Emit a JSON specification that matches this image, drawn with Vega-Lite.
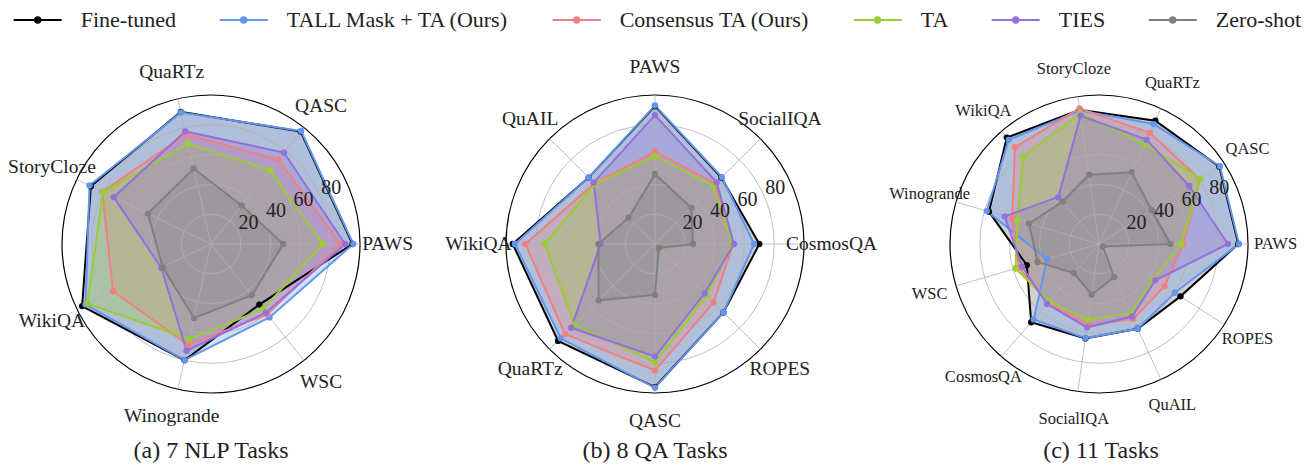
{
  "$schema": "https://vega.github.io/schema/vega-lite/v6.json",
  "padding": 0,
  "background": "white",
  "spacing": 22,
  "bounds": "flush",
  "config": {"view": {"stroke": null}, "font": "Liberation Serif"},
  "datasets": {
    "axes_a": [{"task":"PAWS","k":0},{"task":"QASC","k":1},{"task":"QuaRTz","k":2},{"task":"StoryCloze","k":3},{"task":"WikiQA","k":4},{"task":"Winogrande","k":5},{"task":"WSC","k":6}],
    "axes_b": [{"task":"CosmosQA","k":0},{"task":"SocialIQA","k":1},{"task":"PAWS","k":2},{"task":"QuAIL","k":3},{"task":"WikiQA","k":4},{"task":"QuaRTz","k":5},{"task":"QASC","k":6},{"task":"ROPES","k":7}],
    "axes_c": [{"task":"PAWS","k":0},{"task":"QASC","k":1},{"task":"QuaRTz","k":2},{"task":"StoryCloze","k":3},{"task":"WikiQA","k":4},{"task":"Winogrande","k":5},{"task":"WSC","k":6},{"task":"CosmosQA","k":7},{"task":"SocialIQA","k":8},{"task":"QuAIL","k":9},{"task":"ROPES","k":10}],
    "rings": [{"ring":0.2},{"ring":0.4},{"ring":0.6},{"ring":0.8},{"ring":1.0}],
    "ticks": [{"v":20},{"v":40},{"v":60},{"v":80}],
    "scores_a": [
      {"method":"Fine-tuned","task":"PAWS","value":95},{"method":"Fine-tuned","task":"QASC","value":96.5},{"method":"Fine-tuned","task":"QuaRTz","value":91},{"method":"Fine-tuned","task":"StoryCloze","value":89.5},{"method":"Fine-tuned","task":"WikiQA","value":96},{"method":"Fine-tuned","task":"Winogrande","value":80},{"method":"Fine-tuned","task":"WSC","value":52},
      {"method":"TALL Mask + TA (Ours)","task":"PAWS","value":95.5},{"method":"TALL Mask + TA (Ours)","task":"QASC","value":97},{"method":"TALL Mask + TA (Ours)","task":"QuaRTz","value":90.5},{"method":"TALL Mask + TA (Ours)","task":"StoryCloze","value":90.5},{"method":"TALL Mask + TA (Ours)","task":"WikiQA","value":93.5},{"method":"TALL Mask + TA (Ours)","task":"Winogrande","value":80},{"method":"TALL Mask + TA (Ours)","task":"WSC","value":63},
      {"method":"Consensus TA (Ours)","task":"PAWS","value":87},{"method":"Consensus TA (Ours)","task":"QASC","value":72.5},{"method":"Consensus TA (Ours)","task":"QuaRTz","value":75.5},{"method":"Consensus TA (Ours)","task":"StoryCloze","value":81},{"method":"Consensus TA (Ours)","task":"WikiQA","value":73},{"method":"Consensus TA (Ours)","task":"Winogrande","value":69.5},{"method":"Consensus TA (Ours)","task":"WSC","value":60.5},
      {"method":"TA","task":"PAWS","value":75},{"method":"TA","task":"QASC","value":63.5},{"method":"TA","task":"QuaRTz","value":69},{"method":"TA","task":"StoryCloze","value":80.5},{"method":"TA","task":"WikiQA","value":92},{"method":"TA","task":"Winogrande","value":65.5},{"method":"TA","task":"WSC","value":56},
      {"method":"TIES","task":"PAWS","value":90},{"method":"TIES","task":"QASC","value":78.5},{"method":"TIES","task":"QuaRTz","value":77.5},{"method":"TIES","task":"StoryCloze","value":72.5},{"method":"TIES","task":"WikiQA","value":37},{"method":"TIES","task":"Winogrande","value":73.5},{"method":"TIES","task":"WSC","value":59},
      {"method":"Zero-shot","task":"PAWS","value":48.5},{"method":"Zero-shot","task":"QASC","value":33},{"method":"Zero-shot","task":"QuaRTz","value":52},{"method":"Zero-shot","task":"StoryCloze","value":47},{"method":"Zero-shot","task":"WikiQA","value":36},{"method":"Zero-shot","task":"Winogrande","value":51},{"method":"Zero-shot","task":"WSC","value":44}
    ],
    "scores_b": [
      {"method":"Fine-tuned","task":"CosmosQA","value":70},{"method":"Fine-tuned","task":"SocialIQA","value":63},{"method":"Fine-tuned","task":"PAWS","value":92.5},{"method":"Fine-tuned","task":"QuAIL","value":63},{"method":"Fine-tuned","task":"WikiQA","value":95.5},{"method":"Fine-tuned","task":"QuaRTz","value":92},{"method":"Fine-tuned","task":"QASC","value":96},{"method":"Fine-tuned","task":"ROPES","value":65},
      {"method":"TALL Mask + TA (Ours)","task":"CosmosQA","value":66.5},{"method":"TALL Mask + TA (Ours)","task":"SocialIQA","value":63.5},{"method":"TALL Mask + TA (Ours)","task":"PAWS","value":93},{"method":"TALL Mask + TA (Ours)","task":"QuAIL","value":63},{"method":"TALL Mask + TA (Ours)","task":"WikiQA","value":94},{"method":"TALL Mask + TA (Ours)","task":"QuaRTz","value":89.5},{"method":"TALL Mask + TA (Ours)","task":"QASC","value":96.5},{"method":"TALL Mask + TA (Ours)","task":"ROPES","value":65},
      {"method":"Consensus TA (Ours)","task":"CosmosQA","value":52.5},{"method":"Consensus TA (Ours)","task":"SocialIQA","value":57.5},{"method":"Consensus TA (Ours)","task":"PAWS","value":62},{"method":"Consensus TA (Ours)","task":"QuAIL","value":57.5},{"method":"Consensus TA (Ours)","task":"WikiQA","value":87},{"method":"Consensus TA (Ours)","task":"QuaRTz","value":85.5},{"method":"Consensus TA (Ours)","task":"QASC","value":85},{"method":"Consensus TA (Ours)","task":"ROPES","value":55.5},
      {"method":"TA","task":"CosmosQA","value":52},{"method":"TA","task":"SocialIQA","value":55},{"method":"TA","task":"PAWS","value":59},{"method":"TA","task":"QuAIL","value":56.8},{"method":"TA","task":"WikiQA","value":74},{"method":"TA","task":"QuaRTz","value":76.5},{"method":"TA","task":"QASC","value":79.5},{"method":"TA","task":"ROPES","value":49},
      {"method":"TIES","task":"CosmosQA","value":53},{"method":"TIES","task":"SocialIQA","value":58.5},{"method":"TIES","task":"PAWS","value":86.5},{"method":"TIES","task":"QuAIL","value":58.2},{"method":"TIES","task":"WikiQA","value":36.5},{"method":"TIES","task":"QuaRTz","value":79.5},{"method":"TIES","task":"QASC","value":75.5},{"method":"TIES","task":"ROPES","value":47},
      {"method":"Zero-shot","task":"CosmosQA","value":25.5},{"method":"Zero-shot","task":"SocialIQA","value":34.5},{"method":"Zero-shot","task":"PAWS","value":47},{"method":"Zero-shot","task":"QuAIL","value":25},{"method":"Zero-shot","task":"WikiQA","value":38},{"method":"Zero-shot","task":"QuaRTz","value":53.5},{"method":"Zero-shot","task":"QASC","value":34.2},{"method":"Zero-shot","task":"ROPES","value":3.7}
    ],
    "scores_c": [
      {"method":"Fine-tuned","task":"PAWS","value":93.5},{"method":"Fine-tuned","task":"QASC","value":96},{"method":"Fine-tuned","task":"QuaRTz","value":91},{"method":"Fine-tuned","task":"StoryCloze","value":91},{"method":"Fine-tuned","task":"WikiQA","value":94.5},{"method":"Fine-tuned","task":"Winogrande","value":77},{"method":"Fine-tuned","task":"WSC","value":50.5},{"method":"Fine-tuned","task":"CosmosQA","value":69.5},{"method":"Fine-tuned","task":"SocialIQA","value":64},{"method":"Fine-tuned","task":"QuAIL","value":62.5},{"method":"Fine-tuned","task":"ROPES","value":65},
      {"method":"TALL Mask + TA (Ours)","task":"PAWS","value":94},{"method":"TALL Mask + TA (Ours)","task":"QASC","value":96.5},{"method":"TALL Mask + TA (Ours)","task":"QuaRTz","value":88.5},{"method":"TALL Mask + TA (Ours)","task":"StoryCloze","value":90.5},{"method":"TALL Mask + TA (Ours)","task":"WikiQA","value":92.5},{"method":"TALL Mask + TA (Ours)","task":"Winogrande","value":78.5},{"method":"TALL Mask + TA (Ours)","task":"WSC","value":36.3},{"method":"TALL Mask + TA (Ours)","task":"CosmosQA","value":67},{"method":"TALL Mask + TA (Ours)","task":"SocialIQA","value":63.8},{"method":"TALL Mask + TA (Ours)","task":"QuAIL","value":62.5},{"method":"TALL Mask + TA (Ours)","task":"ROPES","value":60.5},
      {"method":"Consensus TA (Ours)","task":"PAWS","value":56.5},{"method":"Consensus TA (Ours)","task":"QASC","value":80.5},{"method":"Consensus TA (Ours)","task":"QuaRTz","value":82},{"method":"Consensus TA (Ours)","task":"StoryCloze","value":92},{"method":"Consensus TA (Ours)","task":"WikiQA","value":86},{"method":"Consensus TA (Ours)","task":"Winogrande","value":60.8},{"method":"Consensus TA (Ours)","task":"WSC","value":56},{"method":"Consensus TA (Ours)","task":"CosmosQA","value":52.5},{"method":"Consensus TA (Ours)","task":"SocialIQA","value":55},{"method":"Consensus TA (Ours)","task":"QuAIL","value":55.3},{"method":"Consensus TA (Ours)","task":"ROPES","value":52.3},
      {"method":"TA","task":"PAWS","value":55},{"method":"TA","task":"QASC","value":81},{"method":"TA","task":"QuaRTz","value":73.5},{"method":"TA","task":"StoryCloze","value":88.5},{"method":"TA","task":"WikiQA","value":77.7},{"method":"TA","task":"Winogrande","value":57},{"method":"TA","task":"WSC","value":58.4},{"method":"TA","task":"CosmosQA","value":51},{"method":"TA","task":"SocialIQA","value":51.3},{"method":"TA","task":"QuAIL","value":51.2},{"method":"TA","task":"ROPES","value":43.5},
      {"method":"TIES","task":"PAWS","value":86.5},{"method":"TIES","task":"QASC","value":72},{"method":"TIES","task":"QuaRTz","value":77},{"method":"TIES","task":"StoryCloze","value":87},{"method":"TIES","task":"WikiQA","value":41.7},{"method":"TIES","task":"Winogrande","value":66},{"method":"TIES","task":"WSC","value":53.8},{"method":"TIES","task":"CosmosQA","value":53.3},{"method":"TIES","task":"SocialIQA","value":56.5},{"method":"TIES","task":"QuAIL","value":53.5},{"method":"TIES","task":"ROPES","value":45},
      {"method":"Zero-shot","task":"PAWS","value":48},{"method":"Zero-shot","task":"QASC","value":42},{"method":"Zero-shot","task":"QuaRTz","value":53},{"method":"Zero-shot","task":"StoryCloze","value":47},{"method":"Zero-shot","task":"WikiQA","value":37.5},{"method":"Zero-shot","task":"Winogrande","value":49},{"method":"Zero-shot","task":"WSC","value":43},{"method":"Zero-shot","task":"CosmosQA","value":25.8},{"method":"Zero-shot","task":"SocialIQA","value":34.4},{"method":"Zero-shot","task":"QuAIL","value":24.5},{"method":"Zero-shot","task":"ROPES","value":3}
    ]
  },
  "hconcat": [
    {
      "width": 422, "height": 430,
      "title": {"text": "(a) 7 NLP Tasks", "orient": "bottom", "frame": "group", "anchor": "middle", "font": "Liberation Serif", "fontSize": 24, "fontWeight": "normal", "color": "#222222", "offset": 9},
      "layer": [
        {
          "data": {"name": "scores_a"},
          "transform": [
            {"lookup": "task", "from": {"data": {"name": "axes_a"}, "key": "task", "fields": ["k"]}},
            {"calculate": "2*PI*datum.k/7", "as": "ang"},
            {"calculate": "datum.value/100*cos(datum.ang)", "as": "px"},
            {"calculate": "datum.value/100*sin(datum.ang)", "as": "py"}
          ],
          "mark": {"type": "line", "interpolate": "linear-closed", "strokeOpacity": 0, "strokeWidth": 0, "fillOpacity": 0.3},
          "encoding": {
            "x": {"field": "px", "type": "quantitative", "scale": {"domain": [-1.41611, 1.41611], "nice": false, "zero": false}, "axis": null},
            "y": {"field": "py", "type": "quantitative", "scale": {"domain": [-1.24832, 1.63758], "nice": false, "zero": false}, "axis": null},
            "order": {"field": "k", "type": "quantitative"},
            "detail": {"field": "method", "type": "nominal"},
            "fill": {"field": "method", "type": "nominal", "scale": {"domain": ["Fine-tuned","TALL Mask + TA (Ours)","Consensus TA (Ours)","TA","TIES","Zero-shot"], "range": ["rgba(0,0,0,0.6)","#6495ED","#F08080","#9ACD32","#9370DB","#808080"]}, "legend": null}
          }
        },
        {
          "data": {"name": "rings"},
          "transform": [{"calculate": "0", "as": "cx"}, {"calculate": "0", "as": "cy"}],
          "mark": {"type": "point", "shape": "circle", "filled": false, "opacity": 1},
          "encoding": {
            "x": {"field": "cx", "type": "quantitative", "scale": {"domain": [-1.41611, 1.41611], "nice": false, "zero": false}, "axis": null},
            "y": {"field": "cy", "type": "quantitative", "scale": {"domain": [-1.24832, 1.63758], "nice": false, "zero": false}, "axis": null},
            "size": {"field": "ring", "type": "quantitative", "scale": {"type": "pow", "exponent": 2, "domain": [0, 1], "range": [0, 88804], "zero": true}, "legend": null},
            "stroke": {"condition": {"test": "datum.ring >= 1", "value": "#000000"}, "value": "#b0b0b0"},
            "strokeWidth": {"condition": {"test": "datum.ring >= 1", "value": 1.2}, "value": 0.8}
          }
        },
        {
          "data": {"name": "axes_a"},
          "transform": [
            {"calculate": "2*PI*datum.k/7", "as": "ang"},
            {"calculate": "cos(datum.ang)", "as": "sx"},
            {"calculate": "sin(datum.ang)", "as": "sy"},
            {"calculate": "0", "as": "cx"},
            {"calculate": "0", "as": "cy"}
          ],
          "mark": {"type": "rule", "stroke": "#b0b0b0", "strokeWidth": 0.8},
          "encoding": {
            "x": {"field": "sx", "type": "quantitative", "scale": {"domain": [-1.41611, 1.41611], "nice": false, "zero": false}, "axis": null},
            "y": {"field": "sy", "type": "quantitative", "scale": {"domain": [-1.24832, 1.63758], "nice": false, "zero": false}, "axis": null},
            "x2": {"field": "cx"},
            "y2": {"field": "cy"}
          }
        },
        {
          "data": {"name": "scores_a"},
          "transform": [
            {"lookup": "task", "from": {"data": {"name": "axes_a"}, "key": "task", "fields": ["k"]}},
            {"calculate": "2*PI*datum.k/7", "as": "ang"},
            {"calculate": "datum.value/100*cos(datum.ang)", "as": "px"},
            {"calculate": "datum.value/100*sin(datum.ang)", "as": "py"}
          ],
          "mark": {"type": "line", "interpolate": "linear-closed", "strokeWidth": 2},
          "encoding": {
            "x": {"field": "px", "type": "quantitative", "scale": {"domain": [-1.41611, 1.41611], "nice": false, "zero": false}, "axis": null},
            "y": {"field": "py", "type": "quantitative", "scale": {"domain": [-1.24832, 1.63758], "nice": false, "zero": false}, "axis": null},
            "order": {"field": "k", "type": "quantitative"},
            "stroke": {"field": "method", "type": "nominal", "scale": {"domain": ["Fine-tuned","TALL Mask + TA (Ours)","Consensus TA (Ours)","TA","TIES","Zero-shot"], "range": ["#000000","#6495ED","#F08080","#9ACD32","#9370DB","#808080"]},
              "legend": {"orient": "none", "legendX": 26.7, "legendY": 9, "direction": "horizontal", "columns": 6, "title": null, "padding": 0, "symbolType": "M-2.4,0L2.4,0M-0.27,0A0.27,0.27,0,1,0,0.27,0A0.27,0.27,0,1,0,-0.27,0Z", "symbolSize": 400, "symbolStrokeWidth": 2, "symbolOpacity": 1, "labelFont": "Liberation Serif", "labelFontSize": 22, "labelColor": "#222222", "labelOffset": 32, "labelLimit": 400, "columnPadding": 39,
                "encode": {"symbols": {"update": {"fill": {"scale": "stroke", "field": "value"}}}}}}
          }
        },
        {
          "data": {"name": "scores_a"},
          "transform": [
            {"lookup": "task", "from": {"data": {"name": "axes_a"}, "key": "task", "fields": ["k"]}},
            {"calculate": "2*PI*datum.k/7", "as": "ang"},
            {"calculate": "datum.value/100*cos(datum.ang)", "as": "px"},
            {"calculate": "datum.value/100*sin(datum.ang)", "as": "py"}
          ],
          "mark": {"type": "point", "filled": true, "size": 40, "opacity": 1},
          "encoding": {
            "x": {"field": "px", "type": "quantitative", "scale": {"domain": [-1.41611, 1.41611], "nice": false, "zero": false}, "axis": null},
            "y": {"field": "py", "type": "quantitative", "scale": {"domain": [-1.24832, 1.63758], "nice": false, "zero": false}, "axis": null},
            "color": {"field": "method", "type": "nominal", "scale": {"domain": ["Fine-tuned","TALL Mask + TA (Ours)","Consensus TA (Ours)","TA","TIES","Zero-shot"], "range": ["#000000","#6495ED","#F08080","#9ACD32","#9370DB","#808080"]}, "legend": null}
          }
        },
        {
          "data": {"name": "axes_a"},
          "transform": [
            {"calculate": "2*PI*datum.k/7", "as": "ang"},
            {"calculate": "1.185*cos(datum.ang)", "as": "lx"},
            {"calculate": "1.185*sin(datum.ang)", "as": "ly"}
          ],
          "mark": {"type": "text", "font": "Liberation Serif", "fontSize": 19.5, "color": "#222222", "align": "center", "baseline": "middle"},
          "encoding": {
            "x": {"field": "lx", "type": "quantitative", "scale": {"domain": [-1.41611, 1.41611], "nice": false, "zero": false}, "axis": null},
            "y": {"field": "ly", "type": "quantitative", "scale": {"domain": [-1.24832, 1.63758], "nice": false, "zero": false}, "axis": null},
            "text": {"field": "task", "type": "nominal"}
          }
        },
        {
          "data": {"name": "ticks"},
          "transform": [
            {"calculate": "datum.v/100*cos(PI/8)", "as": "tx"},
            {"calculate": "datum.v/100*sin(PI/8)", "as": "ty"}
          ],
          "mark": {"type": "text", "font": "Liberation Serif", "fontSize": 20, "color": "#222222", "align": "left", "baseline": "bottom"},
          "encoding": {
            "x": {"field": "tx", "type": "quantitative", "scale": {"domain": [-1.41611, 1.41611], "nice": false, "zero": false}, "axis": null},
            "y": {"field": "ty", "type": "quantitative", "scale": {"domain": [-1.24832, 1.63758], "nice": false, "zero": false}, "axis": null},
            "text": {"field": "v", "type": "quantitative"}
          }
        }
      ]
    },
    {
      "width": 422, "height": 430,
      "title": {"text": "(b) 8 QA Tasks", "orient": "bottom", "frame": "group", "anchor": "middle", "font": "Liberation Serif", "fontSize": 24, "fontWeight": "normal", "color": "#222222", "offset": 9},
      "layer": [
        {
          "data": {"name": "scores_b"},
          "transform": [
            {"lookup": "task", "from": {"data": {"name": "axes_b"}, "key": "task", "fields": ["k"]}},
            {"calculate": "2*PI*datum.k/8", "as": "ang"},
            {"calculate": "datum.value/100*cos(datum.ang)", "as": "px"},
            {"calculate": "datum.value/100*sin(datum.ang)", "as": "py"}
          ],
          "mark": {"type": "line", "interpolate": "linear-closed", "strokeOpacity": 0, "strokeWidth": 0, "fillOpacity": 0.3},
          "encoding": {
            "x": {"field": "px", "type": "quantitative", "scale": {"domain": [-1.41611, 1.41611], "nice": false, "zero": false}, "axis": null},
            "y": {"field": "py", "type": "quantitative", "scale": {"domain": [-1.24832, 1.63758], "nice": false, "zero": false}, "axis": null},
            "order": {"field": "k", "type": "quantitative"},
            "detail": {"field": "method", "type": "nominal"},
            "fill": {"field": "method", "type": "nominal", "scale": {"domain": ["Fine-tuned","TALL Mask + TA (Ours)","Consensus TA (Ours)","TA","TIES","Zero-shot"], "range": ["rgba(0,0,0,0.6)","#6495ED","#F08080","#9ACD32","#9370DB","#808080"]}, "legend": null}
          }
        },
        {
          "data": {"name": "rings"},
          "transform": [{"calculate": "0", "as": "cx"}, {"calculate": "0", "as": "cy"}],
          "mark": {"type": "point", "shape": "circle", "filled": false, "opacity": 1},
          "encoding": {
            "x": {"field": "cx", "type": "quantitative", "scale": {"domain": [-1.41611, 1.41611], "nice": false, "zero": false}, "axis": null},
            "y": {"field": "cy", "type": "quantitative", "scale": {"domain": [-1.24832, 1.63758], "nice": false, "zero": false}, "axis": null},
            "size": {"field": "ring", "type": "quantitative", "scale": {"type": "pow", "exponent": 2, "domain": [0, 1], "range": [0, 88804], "zero": true}, "legend": null},
            "stroke": {"condition": {"test": "datum.ring >= 1", "value": "#000000"}, "value": "#b0b0b0"},
            "strokeWidth": {"condition": {"test": "datum.ring >= 1", "value": 1.2}, "value": 0.8}
          }
        },
        {
          "data": {"name": "axes_b"},
          "transform": [
            {"calculate": "2*PI*datum.k/8", "as": "ang"},
            {"calculate": "cos(datum.ang)", "as": "sx"},
            {"calculate": "sin(datum.ang)", "as": "sy"},
            {"calculate": "0", "as": "cx"},
            {"calculate": "0", "as": "cy"}
          ],
          "mark": {"type": "rule", "stroke": "#b0b0b0", "strokeWidth": 0.8},
          "encoding": {
            "x": {"field": "sx", "type": "quantitative", "scale": {"domain": [-1.41611, 1.41611], "nice": false, "zero": false}, "axis": null},
            "y": {"field": "sy", "type": "quantitative", "scale": {"domain": [-1.24832, 1.63758], "nice": false, "zero": false}, "axis": null},
            "x2": {"field": "cx"},
            "y2": {"field": "cy"}
          }
        },
        {
          "data": {"name": "scores_b"},
          "transform": [
            {"lookup": "task", "from": {"data": {"name": "axes_b"}, "key": "task", "fields": ["k"]}},
            {"calculate": "2*PI*datum.k/8", "as": "ang"},
            {"calculate": "datum.value/100*cos(datum.ang)", "as": "px"},
            {"calculate": "datum.value/100*sin(datum.ang)", "as": "py"}
          ],
          "mark": {"type": "line", "interpolate": "linear-closed", "strokeWidth": 2},
          "encoding": {
            "x": {"field": "px", "type": "quantitative", "scale": {"domain": [-1.41611, 1.41611], "nice": false, "zero": false}, "axis": null},
            "y": {"field": "py", "type": "quantitative", "scale": {"domain": [-1.24832, 1.63758], "nice": false, "zero": false}, "axis": null},
            "order": {"field": "k", "type": "quantitative"},
            "stroke": {"field": "method", "type": "nominal", "scale": {"domain": ["Fine-tuned","TALL Mask + TA (Ours)","Consensus TA (Ours)","TA","TIES","Zero-shot"], "range": ["#000000","#6495ED","#F08080","#9ACD32","#9370DB","#808080"]}, "legend": null}
          }
        },
        {
          "data": {"name": "scores_b"},
          "transform": [
            {"lookup": "task", "from": {"data": {"name": "axes_b"}, "key": "task", "fields": ["k"]}},
            {"calculate": "2*PI*datum.k/8", "as": "ang"},
            {"calculate": "datum.value/100*cos(datum.ang)", "as": "px"},
            {"calculate": "datum.value/100*sin(datum.ang)", "as": "py"}
          ],
          "mark": {"type": "point", "filled": true, "size": 40, "opacity": 1},
          "encoding": {
            "x": {"field": "px", "type": "quantitative", "scale": {"domain": [-1.41611, 1.41611], "nice": false, "zero": false}, "axis": null},
            "y": {"field": "py", "type": "quantitative", "scale": {"domain": [-1.24832, 1.63758], "nice": false, "zero": false}, "axis": null},
            "color": {"field": "method", "type": "nominal", "scale": {"domain": ["Fine-tuned","TALL Mask + TA (Ours)","Consensus TA (Ours)","TA","TIES","Zero-shot"], "range": ["#000000","#6495ED","#F08080","#9ACD32","#9370DB","#808080"]}, "legend": null}
          }
        },
        {
          "data": {"name": "axes_b"},
          "transform": [
            {"calculate": "2*PI*datum.k/8", "as": "ang"},
            {"calculate": "1.185*cos(datum.ang)", "as": "lx"},
            {"calculate": "1.185*sin(datum.ang)", "as": "ly"}
          ],
          "mark": {"type": "text", "font": "Liberation Serif", "fontSize": 19.5, "color": "#222222", "align": "center", "baseline": "middle"},
          "encoding": {
            "x": {"field": "lx", "type": "quantitative", "scale": {"domain": [-1.41611, 1.41611], "nice": false, "zero": false}, "axis": null},
            "y": {"field": "ly", "type": "quantitative", "scale": {"domain": [-1.24832, 1.63758], "nice": false, "zero": false}, "axis": null},
            "text": {"field": "task", "type": "nominal"}
          }
        },
        {
          "data": {"name": "ticks"},
          "transform": [
            {"calculate": "datum.v/100*cos(PI/8)", "as": "tx"},
            {"calculate": "datum.v/100*sin(PI/8)", "as": "ty"}
          ],
          "mark": {"type": "text", "font": "Liberation Serif", "fontSize": 20, "color": "#222222", "align": "left", "baseline": "bottom"},
          "encoding": {
            "x": {"field": "tx", "type": "quantitative", "scale": {"domain": [-1.41611, 1.41611], "nice": false, "zero": false}, "axis": null},
            "y": {"field": "ty", "type": "quantitative", "scale": {"domain": [-1.24832, 1.63758], "nice": false, "zero": false}, "axis": null},
            "text": {"field": "v", "type": "quantitative"}
          }
        }
      ]
    },
    {
      "width": 418, "height": 430,
      "title": {"text": "(c) 11 Tasks", "orient": "bottom", "frame": "group", "anchor": "middle", "font": "Liberation Serif", "fontSize": 24, "fontWeight": "normal", "color": "#222222", "offset": 9, "dx": 4},
      "layer": [
        {
          "data": {"name": "scores_c"},
          "transform": [
            {"lookup": "task", "from": {"data": {"name": "axes_c"}, "key": "task", "fields": ["k"]}},
            {"calculate": "2*PI*datum.k/11", "as": "ang"},
            {"calculate": "datum.value/100*cos(datum.ang)", "as": "px"},
            {"calculate": "datum.value/100*sin(datum.ang)", "as": "py"}
          ],
          "mark": {"type": "line", "interpolate": "linear-closed", "strokeOpacity": 0, "strokeWidth": 0, "fillOpacity": 0.3},
          "encoding": {
            "x": {"field": "px", "type": "quantitative", "scale": {"domain": [-1.41611, 1.38926], "nice": false, "zero": false}, "axis": null},
            "y": {"field": "py", "type": "quantitative", "scale": {"domain": [-1.24832, 1.63758], "nice": false, "zero": false}, "axis": null},
            "order": {"field": "k", "type": "quantitative"},
            "detail": {"field": "method", "type": "nominal"},
            "fill": {"field": "method", "type": "nominal", "scale": {"domain": ["Fine-tuned","TALL Mask + TA (Ours)","Consensus TA (Ours)","TA","TIES","Zero-shot"], "range": ["rgba(0,0,0,0.6)","#6495ED","#F08080","#9ACD32","#9370DB","#808080"]}, "legend": null}
          }
        },
        {
          "data": {"name": "rings"},
          "transform": [{"calculate": "0", "as": "cx"}, {"calculate": "0", "as": "cy"}],
          "mark": {"type": "point", "shape": "circle", "filled": false, "opacity": 1},
          "encoding": {
            "x": {"field": "cx", "type": "quantitative", "scale": {"domain": [-1.41611, 1.38926], "nice": false, "zero": false}, "axis": null},
            "y": {"field": "cy", "type": "quantitative", "scale": {"domain": [-1.24832, 1.63758], "nice": false, "zero": false}, "axis": null},
            "size": {"field": "ring", "type": "quantitative", "scale": {"type": "pow", "exponent": 2, "domain": [0, 1], "range": [0, 88804], "zero": true}, "legend": null},
            "stroke": {"condition": {"test": "datum.ring >= 1", "value": "#000000"}, "value": "#b0b0b0"},
            "strokeWidth": {"condition": {"test": "datum.ring >= 1", "value": 1.2}, "value": 0.8}
          }
        },
        {
          "data": {"name": "axes_c"},
          "transform": [
            {"calculate": "2*PI*datum.k/11", "as": "ang"},
            {"calculate": "cos(datum.ang)", "as": "sx"},
            {"calculate": "sin(datum.ang)", "as": "sy"},
            {"calculate": "0", "as": "cx"},
            {"calculate": "0", "as": "cy"}
          ],
          "mark": {"type": "rule", "stroke": "#b0b0b0", "strokeWidth": 0.8},
          "encoding": {
            "x": {"field": "sx", "type": "quantitative", "scale": {"domain": [-1.41611, 1.38926], "nice": false, "zero": false}, "axis": null},
            "y": {"field": "sy", "type": "quantitative", "scale": {"domain": [-1.24832, 1.63758], "nice": false, "zero": false}, "axis": null},
            "x2": {"field": "cx"},
            "y2": {"field": "cy"}
          }
        },
        {
          "data": {"name": "scores_c"},
          "transform": [
            {"lookup": "task", "from": {"data": {"name": "axes_c"}, "key": "task", "fields": ["k"]}},
            {"calculate": "2*PI*datum.k/11", "as": "ang"},
            {"calculate": "datum.value/100*cos(datum.ang)", "as": "px"},
            {"calculate": "datum.value/100*sin(datum.ang)", "as": "py"}
          ],
          "mark": {"type": "line", "interpolate": "linear-closed", "strokeWidth": 2},
          "encoding": {
            "x": {"field": "px", "type": "quantitative", "scale": {"domain": [-1.41611, 1.38926], "nice": false, "zero": false}, "axis": null},
            "y": {"field": "py", "type": "quantitative", "scale": {"domain": [-1.24832, 1.63758], "nice": false, "zero": false}, "axis": null},
            "order": {"field": "k", "type": "quantitative"},
            "stroke": {"field": "method", "type": "nominal", "scale": {"domain": ["Fine-tuned","TALL Mask + TA (Ours)","Consensus TA (Ours)","TA","TIES","Zero-shot"], "range": ["#000000","#6495ED","#F08080","#9ACD32","#9370DB","#808080"]}, "legend": null}
          }
        },
        {
          "data": {"name": "scores_c"},
          "transform": [
            {"lookup": "task", "from": {"data": {"name": "axes_c"}, "key": "task", "fields": ["k"]}},
            {"calculate": "2*PI*datum.k/11", "as": "ang"},
            {"calculate": "datum.value/100*cos(datum.ang)", "as": "px"},
            {"calculate": "datum.value/100*sin(datum.ang)", "as": "py"}
          ],
          "mark": {"type": "point", "filled": true, "size": 40, "opacity": 1},
          "encoding": {
            "x": {"field": "px", "type": "quantitative", "scale": {"domain": [-1.41611, 1.38926], "nice": false, "zero": false}, "axis": null},
            "y": {"field": "py", "type": "quantitative", "scale": {"domain": [-1.24832, 1.63758], "nice": false, "zero": false}, "axis": null},
            "color": {"field": "method", "type": "nominal", "scale": {"domain": ["Fine-tuned","TALL Mask + TA (Ours)","Consensus TA (Ours)","TA","TIES","Zero-shot"], "range": ["#000000","#6495ED","#F08080","#9ACD32","#9370DB","#808080"]}, "legend": null}
          }
        },
        {
          "data": {"name": "axes_c"},
          "transform": [
            {"calculate": "2*PI*datum.k/11", "as": "ang"},
            {"calculate": "1.185*cos(datum.ang)", "as": "lx"},
            {"calculate": "1.185*sin(datum.ang)", "as": "ly"}
          ],
          "mark": {"type": "text", "font": "Liberation Serif", "fontSize": 16.5, "color": "#222222", "align": "center", "baseline": "middle"},
          "encoding": {
            "x": {"field": "lx", "type": "quantitative", "scale": {"domain": [-1.41611, 1.38926], "nice": false, "zero": false}, "axis": null},
            "y": {"field": "ly", "type": "quantitative", "scale": {"domain": [-1.24832, 1.63758], "nice": false, "zero": false}, "axis": null},
            "text": {"field": "task", "type": "nominal"}
          }
        },
        {
          "data": {"name": "ticks"},
          "transform": [
            {"calculate": "datum.v/100*cos(PI/8)", "as": "tx"},
            {"calculate": "datum.v/100*sin(PI/8)", "as": "ty"}
          ],
          "mark": {"type": "text", "font": "Liberation Serif", "fontSize": 20, "color": "#222222", "align": "left", "baseline": "bottom"},
          "encoding": {
            "x": {"field": "tx", "type": "quantitative", "scale": {"domain": [-1.41611, 1.38926], "nice": false, "zero": false}, "axis": null},
            "y": {"field": "ty", "type": "quantitative", "scale": {"domain": [-1.24832, 1.63758], "nice": false, "zero": false}, "axis": null},
            "text": {"field": "v", "type": "quantitative"}
          }
        }
      ]
    }
  ],
  "resolve": {"scale": {"x": "independent", "y": "independent"}, "legend": {"stroke": "independent"}}
}
